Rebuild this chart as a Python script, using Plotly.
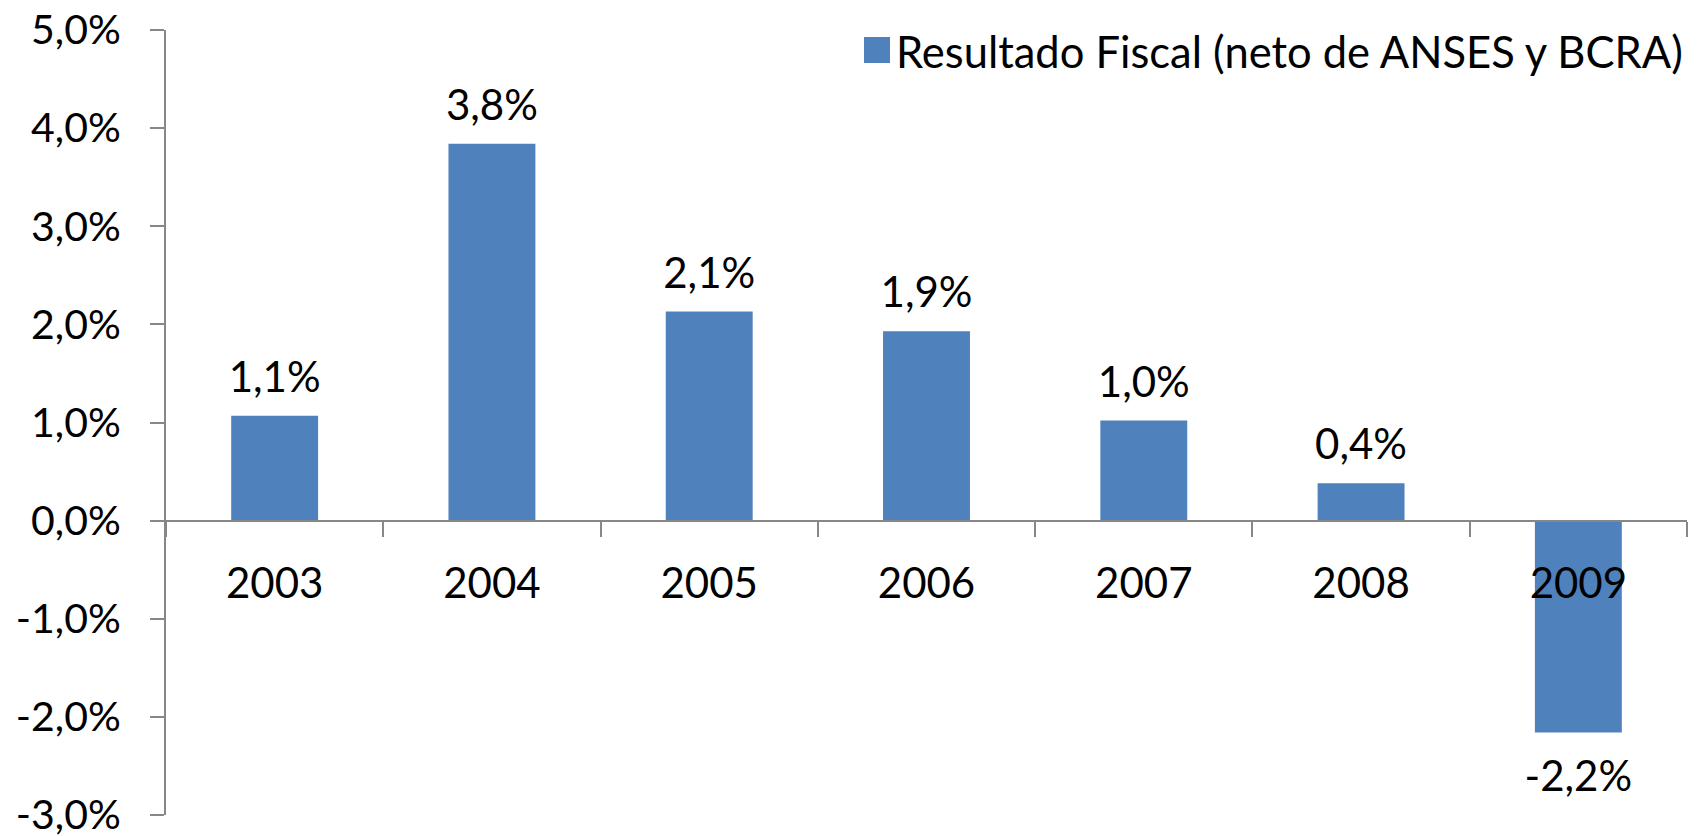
import plotly.graph_objects as go

years = ["2003", "2004", "2005", "2006", "2007", "2008", "2009"]
resultado = [1.07, 3.84, 2.13, 1.93, 1.02, 0.38, -2.16]
series_name = "Resultado Fiscal (neto de ANSES y BCRA)"
y_ticks = [-3, -2, -1, 0, 1, 2, 3, 4, 5]
y_tick_text = [f"{v:.1f}%".replace(".", ",") for v in y_ticks]
bar_text = [f"{v:.1f}%".replace(".", ",") for v in resultado]

BLUE = "#4F81BD"
AXIS = "#878787"
FONT = "Lato, 'Open Sans', sans-serif"
FS = 42

W, H = 1704, 836
L, R, T, B = 158, 25, 22, 29
PW, PH = W - L - R, H - T - B

fig = go.Figure()
fig.add_trace(go.Bar(
    x=years, y=resultado, name=series_name,
    marker=dict(color=BLUE, line=dict(width=0)),
    showlegend=False, hoverinfo="x+y",
))
# data labels (above positive bars, below negative ones)
fig.add_trace(go.Scatter(
    x=years, y=resultado, mode="markers+text", text=bar_text,
    textposition=["top center" if v >= 0 else "bottom center" for v in resultado],
    marker=dict(size=[20 if v >= 0 else 41 for v in resultado], opacity=0),
    textfont=dict(family=FONT, size=FS, color="black"),
    cliponaxis=False, showlegend=False, hoverinfo="skip",
))

fig.update_layout(
    width=W, height=H,
    margin=dict(l=L, r=R, t=T, b=B, autoexpand=False),
    paper_bgcolor="white", plot_bgcolor="white",
    bargap=0.6,
    font=dict(family=FONT, size=FS, color="black"),
    showlegend=False,
)
fig.update_xaxes(
    type="category", anchor="free", position=0.375, automargin=False,
    showline=True, linecolor=AXIS, linewidth=2,
    ticks="outside", ticklen=15, tickwidth=2, tickcolor=AXIS,
    tickson="boundaries", ticklabelstandoff=26,
    showgrid=False, zeroline=False,
    tickfont=dict(family=FONT, size=FS, color="black"),
)
fig.update_yaxes(
    range=[-3, 5], tickvals=y_ticks, ticktext=y_tick_text, automargin=False,
    ticklabeloverflow="allow",
    showline=True, linecolor=AXIS, linewidth=2,
    ticks="outside", ticklen=14, tickwidth=2, tickcolor=AXIS,
    ticklabelstandoff=21,
    showgrid=False, zeroline=False,
    tickfont=dict(family=FONT, size=41, color="black"),
)

# legend key (square + label) in the top-right corner
fig.add_shape(type="rect", xref="paper", yref="paper",
              x0=(856 - L) / PW, x1=(882 - L) / PW,
              y0=1 - (55 - T) / PH, y1=1 - (29 - T) / PH,
              fillcolor=BLUE, line=dict(width=0))
fig.add_annotation(xref="paper", yref="paper", x=(886 - L) / PW, y=1 - (43 - T) / PH,
                   xanchor="left", yanchor="middle", text=series_name,
                   showarrow=False, font=dict(family=FONT, size=43.5, color="black"))

fig.write_html("out.html")
